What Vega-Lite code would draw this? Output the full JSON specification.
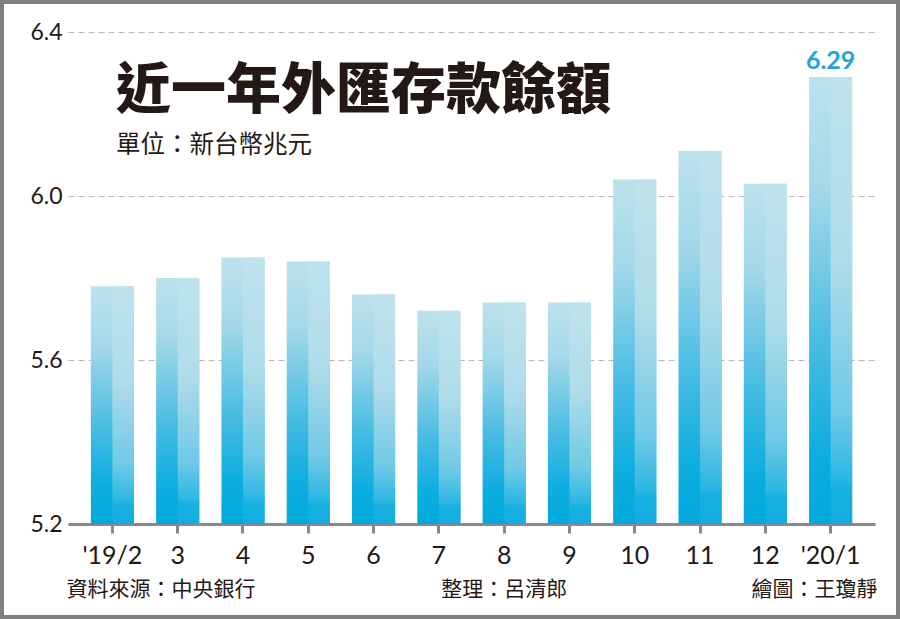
{
  "$schema": "https://vega.github.io/schema/vega-lite/v6.json",
  "width": 896,
  "height": 615,
  "padding": 2,
  "autosize": {"type": "none"},
  "background": "white",
  "config": {
    "view": {"stroke": "#7f7f7f", "strokeWidth": 4},
    "font": "Noto Sans CJK TC"
  },
  "title": {
    "text": "近一年外匯存款餘額",
    "subtitle": "單位：新台幣兆元",
    "anchor": "start",
    "frame": "group",
    "orient": "top",
    "offset": 0,
    "dx": 114,
    "dy": 156,
    "font": "Noto Sans CJK TC",
    "fontSize": 55,
    "fontWeight": 900,
    "color": "#231815",
    "subtitleFont": "Noto Sans CJK TC",
    "subtitleFontSize": 24.5,
    "subtitleFontWeight": 400,
    "subtitleColor": "#231815",
    "subtitlePadding": 14
  },
  "data": {
    "values": [
      {"month": "'19/2", "value": 5.78},
      {"month": "3", "value": 5.80},
      {"month": "4", "value": 5.85},
      {"month": "5", "value": 5.84},
      {"month": "6", "value": 5.76},
      {"month": "7", "value": 5.72},
      {"month": "8", "value": 5.74},
      {"month": "9", "value": 5.74},
      {"month": "10", "value": 6.04},
      {"month": "11", "value": 6.11},
      {"month": "12", "value": 6.03},
      {"month": "'20/1", "value": 6.29}
    ]
  },
  "layer": [
    {
      "mark": {
        "type": "bar",
        "color": {
          "gradient": "linear", "x1": 0, "y1": 0, "x2": 0, "y2": 1,
          "stops": [
            {"offset": 0, "color": "#bce2ec"},
            {"offset": 0.25, "color": "#a4d8e9"},
            {"offset": 0.6, "color": "#46bce3"},
            {"offset": 0.85, "color": "#0cade0"},
            {"offset": 1, "color": "#02a8dc"}
          ]
        }
      },
      "encoding": {
        "x": {
          "field": "month",
          "type": "nominal",
          "sort": null,
          "scale": {
            "domain": ["'19/2", "3", "4", "5", "6", "7", "8", "9", "10", "11", "12", "'20/1"],
            "range": [66, 873],
            "paddingInner": 0.34,
            "paddingOuter": 0.35
          },
          "axis": {
            "title": null,
            "orient": "bottom",
            "offset": -93,
            "labelAngle": 0,
            "domainColor": "#8a8a8a",
            "domainWidth": 3,
            "tickColor": "#8a8a8a",
            "tickWidth": 3,
            "tickSize": 9,
            "labelFont": "Lato",
            "labelFontSize": 25,
            "labelColor": "#231815",
            "labelPadding": 10,
            "grid": false
          }
        },
        "y": {
          "field": "value",
          "type": "quantitative",
          "scale": {"domain": [5.2, 6.4], "range": [522, 30], "zero": false, "nice": false},
          "axis": {
            "title": null,
            "orient": "left",
            "offset": -63,
            "values": [5.2, 5.6, 6.0, 6.4],
            "format": ".1f",
            "domain": false,
            "ticks": false,
            "tickSize": 0,
            "labelPadding": 3,
            "labelFont": "Lato",
            "labelFontSize": 23,
            "labelColor": "#231815",
            "grid": true,
            "gridColor": "#b8b8b8",
            "gridDash": [6, 4],
            "gridWidth": 1
          }
        },
        "y2": {"datum": 5.2}
      }
    },
    {
      "mark": {
        "type": "bar",
        "width": {"band": 0.5},
        "xOffset": 10.8,
        "color": {
          "gradient": "linear", "x1": 0, "y1": 0, "x2": 0, "y2": 1,
          "stops": [
            {"offset": 0, "color": "#bfe3ec"},
            {"offset": 0.4, "color": "#b0dcea"},
            {"offset": 0.75, "color": "#6fc9e7"},
            {"offset": 0.9, "color": "#2cb7e3"},
            {"offset": 0.92, "color": "#18b0e0"},
            {"offset": 1, "color": "#12ade0"}
          ]
        }
      },
      "encoding": {
        "x": {"field": "month", "type": "nominal", "sort": null},
        "y": {"field": "value", "type": "quantitative"},
        "y2": {"datum": 5.2}
      }
    },
    {
      "transform": [{"filter": "datum.month === \"'20/1\""}],
      "mark": {
        "type": "text",
        "baseline": "bottom",
        "dy": -3,
        "font": "Lato",
        "fontSize": 25,
        "fontWeight": "bold",
        "color": "#1ea5d7"
      },
      "encoding": {
        "x": {"field": "month", "type": "nominal", "sort": null},
        "y": {"field": "value", "type": "quantitative"},
        "text": {"field": "value", "type": "quantitative", "format": ".2f"}
      }
    },
    {
      "data": {"values": [{"note": "資料來源：中央銀行"}]},
      "mark": {"type": "text", "align": "left", "baseline": "middle", "dx": -46, "dy": 66, "fontSize": 21, "fontWeight": 400, "color": "#231815"},
      "encoding": {
        "x": {"datum": "'19/2", "type": "nominal"},
        "y": {"datum": 5.2, "type": "quantitative"},
        "text": {"field": "note"}
      }
    },
    {
      "data": {"values": [{"note": "整理：呂清郎"}]},
      "mark": {"type": "text", "align": "center", "baseline": "middle", "dx": 0, "dy": 66, "fontSize": 21, "fontWeight": 400, "color": "#231815"},
      "encoding": {
        "x": {"datum": "8", "type": "nominal"},
        "y": {"datum": 5.2, "type": "quantitative"},
        "text": {"field": "note"}
      }
    },
    {
      "data": {"values": [{"note": "繪圖：王瓊靜"}]},
      "mark": {"type": "text", "align": "right", "baseline": "middle", "dx": 47, "dy": 66, "fontSize": 21, "fontWeight": 400, "color": "#231815"},
      "encoding": {
        "x": {"datum": "'20/1", "type": "nominal"},
        "y": {"datum": 5.2, "type": "quantitative"},
        "text": {"field": "note"}
      }
    }
  ]
}
